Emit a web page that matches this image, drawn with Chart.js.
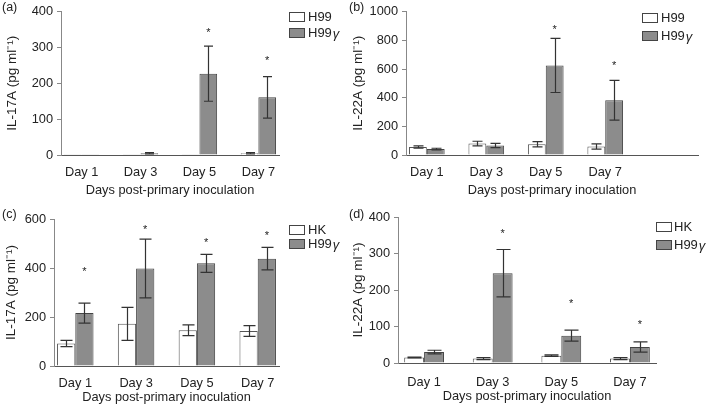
<!DOCTYPE html>
<html>
<head>
<meta charset="utf-8">
<script src="https://cdn.jsdelivr.net/npm/chart.js@4.4.0/dist/chart.umd.min.js"></script>
<style>
  body { margin: 0; background: #fff; width: 708px; height: 405px; position: relative; overflow: hidden; }
  canvas { position: absolute; }
</style>
</head>
<body>
<canvas id="pa" width="346" height="202" style="left:0;top:0"></canvas>
<canvas id="pb" width="362" height="202" style="left:346px;top:0"></canvas>
<canvas id="pc" width="346" height="203" style="left:0;top:202px"></canvas>
<canvas id="pd" width="362" height="203" style="left:346px;top:202px"></canvas>
<script>
// categories
const days = ['Day 1', 'Day 3', 'Day 5', 'Day 7'];

// (a) IL-17A, H99 vs H99γ
const aH99 = [1, 1, 1, 5];
const aH99Err = [0, 0, 0, 2];
const aH99g = [1, 5, 227, 161];
const aH99gErr = [0, 2, 77, 58];
const aStars = [null, null, 346, 267];

// (b) IL-22A, H99 vs H99γ
const bH99 = [55, 80, 75, 59];
const bH99Err = [8, 16, 19, 18];
const bH99g = [41, 66, 625, 382];
const bH99gErr = [6, 15, 189, 138];
const bStars = [null, null, 886, 634];

// (c) IL-17A, HK vs H99γ
const cHK = [92, 172, 146, 143];
const cHKErr = [13, 67, 22, 22];
const cH99g = [216, 398, 419, 438];
const cH99gErr = [41, 120, 37, 46];
const cStars = [391, 562, 511, 537];

// (d) IL-22A, HK vs H99γ
const dHK = [15, 12, 20, 12];
const dHKErr = [1, 3, 2, 3];
const dH99g = [30, 246, 75, 44];
const dH99gErr = [5, 65, 15, 14];
const dStars = [null, 360, 166, 111];

const FONT = "'Liberation Sans', Arial, sans-serif";
const TXT = '#222';

// error bars, asterisks, legend and panel letter
const extras = {
  id: 'extras',
  afterDatasetsDraw(chart) {
    const o = chart.options.plugins.extras;
    const ctx = chart.ctx;
    const y = chart.scales.y;
    ctx.save();
    ctx.strokeStyle = '#333';
    ctx.lineWidth = 1.2;
    chart.data.datasets.forEach((ds, di) => {
      const meta = chart.getDatasetMeta(di);
      meta.data.forEach((el, i) => {
        const pt = ds.data[i];
        if (!pt.err) return;
        const x = Math.round(el.x) + 0.5;
        const top = y.getPixelForValue(pt.y + pt.err);
        const bot = y.getPixelForValue(Math.max(pt.y - pt.err, 0));
        ctx.beginPath();
        ctx.moveTo(x, top); ctx.lineTo(x, bot);
        ctx.moveTo(x - o.cap / 2, top); ctx.lineTo(x + o.cap / 2, top);
        ctx.moveTo(x - o.cap / 2, bot); ctx.lineTo(x + o.cap / 2, bot);
        ctx.stroke();
      });
    });
    // asterisks over the second series
    const meta2 = chart.getDatasetMeta(1);
    ctx.fillStyle = TXT;
    ctx.font = '11px ' + FONT;
    ctx.textAlign = 'center';
    ctx.textBaseline = 'middle';
    o.stars.forEach((s, i) => {
      if (s == null) return;
      ctx.fillText('*', meta2.data[i].x, y.getPixelForValue(s) + 2);
    });
    // legend
    ctx.textAlign = 'left';
    chart.data.datasets.forEach((ds, di) => {
      const ly = o.legend.y[di];
      ctx.fillStyle = ds.backgroundColor;
      ctx.fillRect(o.legend.x, ly - 5, 16, 10);
      ctx.strokeStyle = '#444';
      ctx.lineWidth = 1;
      ctx.strokeRect(o.legend.x + 0.5, ly - 4.5, 15, 9);
      ctx.fillStyle = TXT;
      let name = ds.label;
      ctx.font = '13px ' + FONT;
      if (name.endsWith('γ')) {
        const base = name.slice(0, -1);
        ctx.fillText(base, o.legend.tx, ly);
        const w = ctx.measureText(base).width;
        ctx.font = 'italic 13px ' + FONT;
        ctx.fillText('γ', o.legend.tx + w + 1, ly + 1);
      } else {
        ctx.fillText(name, o.legend.tx, ly);
      }
    });
    // panel letter
    ctx.font = '12.5px ' + FONT;
    ctx.fillText(o.letter, o.letterX, o.letterY);
    ctx.restore();
  }
};

function panelChart(id, p) {
  const pts = (vals, errs) => vals.map((v, i) => ({ x: i + 1, y: v, err: errs[i] }));
  const tickFont = { family: FONT, size: 12.8 };
  return new Chart(document.getElementById(id).getContext('2d'), {
    type: 'bar',
    data: {
      datasets: [
        { label: p.names[0], data: pts(p.v1, p.e1), backgroundColor: '#ffffff', borderColor: '#555', borderWidth: 1 },
        { label: p.names[1], data: pts(p.v2, p.e2), backgroundColor: '#8c8c8c', borderColor: '#444', borderWidth: 1 }
      ]
    },
    options: {
      responsive: false,
      animation: false,
      devicePixelRatio: 1,
      categoryPercentage: p.catPct,
      barPercentage: 1,
      layout: { padding: { top: p.top, right: p.padRight, left: 0, bottom: 0 } },
      plugins: {
        legend: { display: false },
        tooltip: { enabled: false },
        extras: { cap: p.cap, stars: p.stars, legend: p.legend, letter: p.letter, letterX: p.letterX, letterY: p.letterY }
      },
      scales: {
        x: {
          type: 'linear', offset: false, min: p.xMin, max: p.xMax,
          afterBuildTicks: s => { s.ticks = days.map((d, i) => ({ value: i + 1 })); },
          afterFit: s => { s.height = p.xHeight; },
          ticks: { callback: v => days[v - 1], font: tickFont, color: TXT, padding: p.xTickPad, maxRotation: 0, autoSkip: false },
          grid: { display: false },
          border: { color: '#555' },
          title: { display: true, text: 'Days post-primary inoculation', font: { family: FONT, size: 12.8 }, color: TXT, padding: { top: 0, bottom: p.xTitlePad } }
        },
        y: {
          min: 0, max: p.yMax,
          afterFit: s => { s.width = p.yWidth; },
          ticks: { stepSize: p.yStep, callback: v => String(v), font: tickFont, color: TXT, padding: 4 },
          grid: { drawOnChartArea: false, tickLength: 4, color: '#888' },
          border: { color: '#888' },
          title: { display: true, text: p.yTitle, font: { family: FONT, size: 13.5 }, color: TXT, padding: { top: p.yTitlePad, bottom: 0 } }
        }
      }
    },
    plugins: [extras]
  });
}

panelChart('pa', {
  names: ['H99', 'H99γ'], v1: aH99, e1: aH99Err, v2: aH99g, e2: aH99gErr, stars: aStars,
  yMax: 400, yStep: 100, yTitle: 'IL-17A (pg ml\u207B\u00B9)',
  top: 8, padRight: 67, yWidth: 61, xHeight: 47, xMin: 0.65, xMax: 4.35, catPct: 0.6,
  xTickPad: 2, xTitlePad: 4, yTitlePad: 4, cap: 9,
  legend: { x: 289, y: [17, 33], tx: 308 }, letter: '(a)', letterX: 2, letterY: 8
});
panelChart('pb', {
  names: ['H99', 'H99γ'], v1: bH99, e1: bH99Err, v2: bH99g, e2: bH99gErr, stars: bStars,
  yMax: 1000, yStep: 200, yTitle: 'IL-22A (pg ml\u207B\u00B9)',
  top: 8, padRight: 10, yWidth: 60, xHeight: 47, xMin: 0.65, xMax: 5.56, catPct: 0.6,
  xTickPad: 2, xTitlePad: 4, yTitlePad: 4, cap: 10,
  legend: { x: 296, y: [18, 36], tx: 315 }, letter: '(b)', letterX: 3, letterY: 8
});
panelChart('pc', {
  names: ['HK', 'H99γ'], v1: cHK, e1: cHKErr, v2: cH99g, e2: cH99gErr, stars: cStars,
  yMax: 600, yStep: 200, yTitle: 'IL-17A (pg ml\u207B\u00B9)',
  top: 17, padRight: 67, yWidth: 54, xHeight: 39, xMin: 0.65, xMax: 4.35, catPct: 0.6,
  xTickPad: 2, xTitlePad: 0, yTitlePad: 3, cap: 12,
  legend: { x: 289, y: [28, 42], tx: 308 }, letter: '(c)', letterX: 2, letterY: 13
});
panelChart('pd', {
  names: ['HK', 'H99γ'], v1: dHK, e1: dHKErr, v2: dH99g, e2: dH99gErr, stars: dStars,
  yMax: 400, yStep: 100, yTitle: 'IL-22A (pg ml\u207B\u00B9)',
  top: 15, padRight: 52, yWidth: 52, xHeight: 42, xMin: 0.62, xMax: 4.38, catPct: 0.58,
  xTickPad: 4, xTitlePad: 1, yTitlePad: 4, cap: 14,
  legend: { x: 310, y: [25, 43], tx: 328 }, letter: '(d)', letterX: 3, letterY: 13
});
</script>
</body>
</html>
